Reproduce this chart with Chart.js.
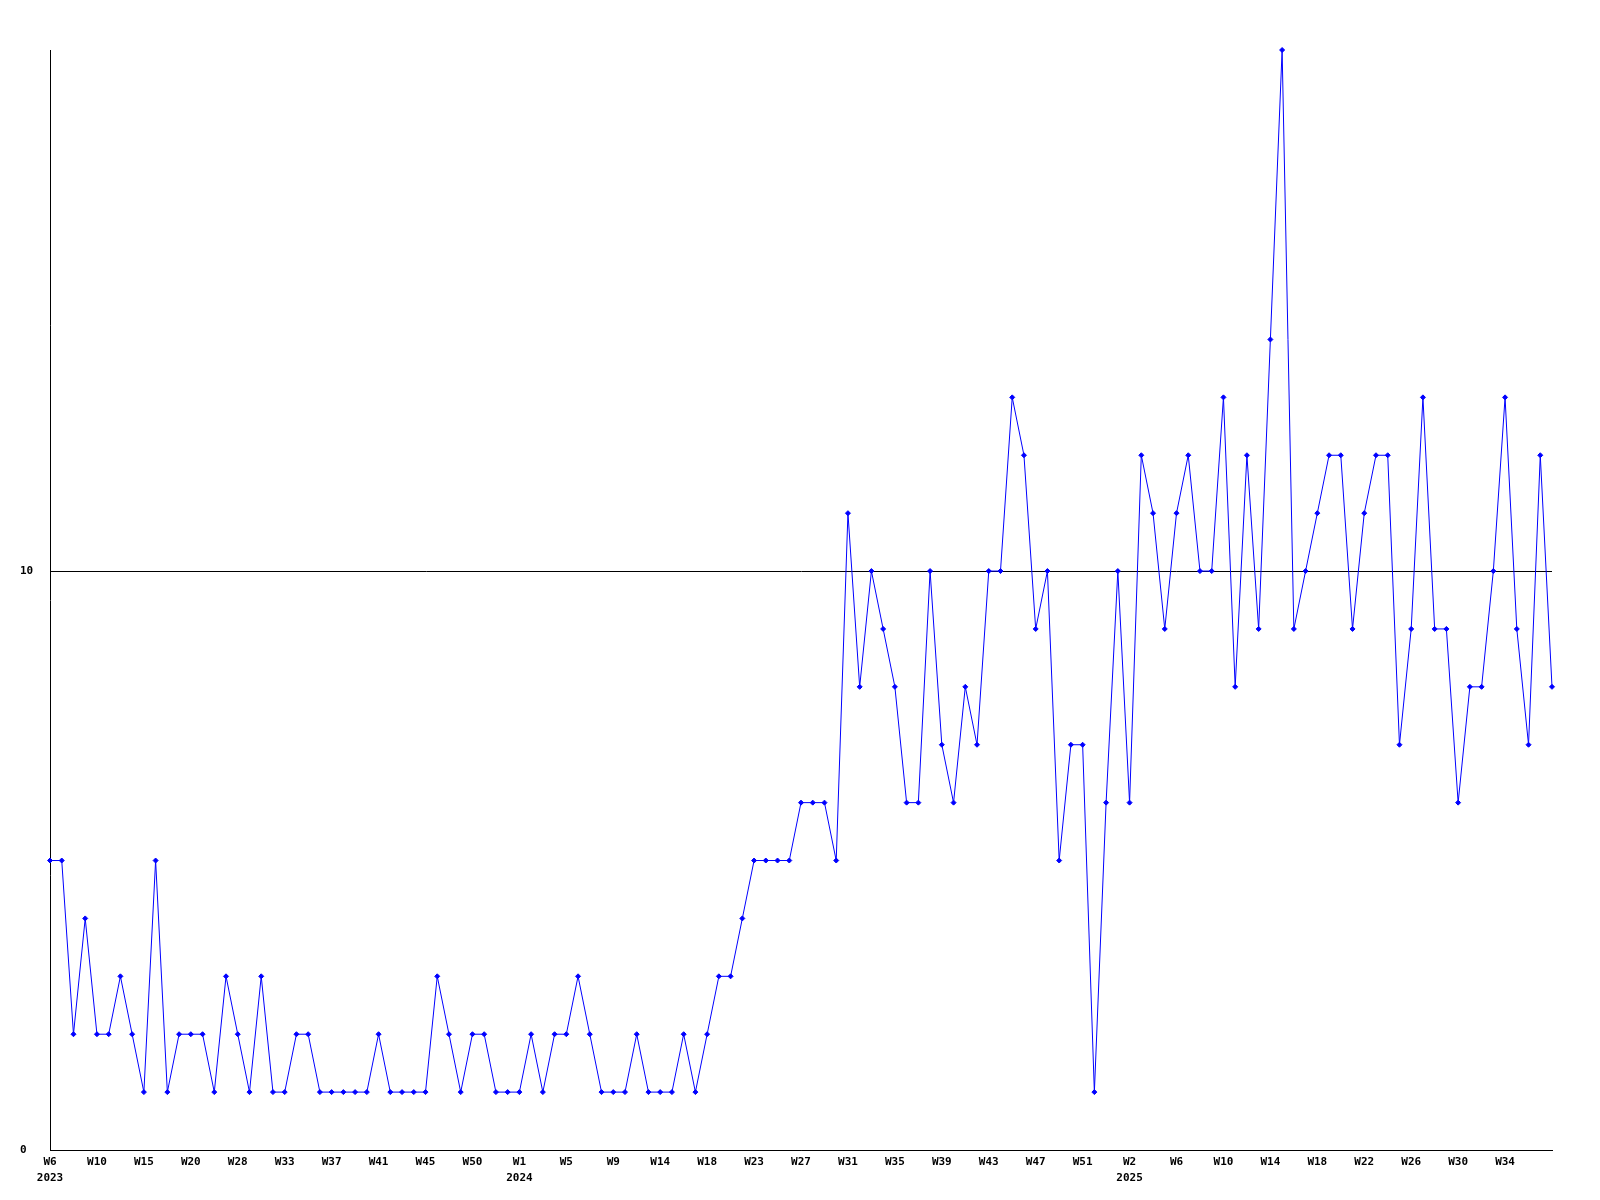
<!DOCTYPE html>
<html>
<head>
<meta charset="utf-8">
<script src="https://cdn.jsdelivr.net/npm/chart.js@4.4.0/dist/chart.umd.min.js"></script>
<style>
  html, body { margin: 0; padding: 0; background: #fff; }
  #wrap { width: 1600px; height: 1200px; }
</style>
</head>
<body>
<div id="wrap"><canvas id="weeklyChart" width="1600" height="1200"></canvas></div>
<script>
// Week numbers per year (some weeks have no entry)
const weeks2023 = [6, 7, 8, 9, 10, 11, 12, 14, 15, 16, 17, 19, 20, 22, 24, 26, 28, 29, 30, 32,
                   33, 34, 35, 36, 37, 38, 39, 40, 41, 42, 43, 44, 45, 46, 47, 49, 50, 51, 52, 53];
const weeks2024 = [1, 2, 3, 4, 5, 6, 7, 8, 9, 10, 11, 13, 14, 15, 16, 17, 18, 19, 20, 22,
                   23, 24, 25, 26, 27, 28, 29, 30, 31, 32, 33, 34, 35, 36, 37, 38, 39, 40, 41, 42,
                   43, 44, 45, 46, 47, 48, 49, 50, 51, 52, 53];
const weeks2025 = [1, 2, 3, 4, 5, 6, 7, 8, 9, 10, 11, 12, 13, 14, 15, 16, 17, 18, 19, 20,
                   21, 22, 23, 24, 25, 26, 27, 28, 29, 30, 31, 32, 33, 34, 35, 36, 37, 38];

// Count per week
const counts = [
    5, 5, 2, 4, 2, 2, 3, 2, 1, 5,
    1, 2, 2, 2, 1, 3, 2, 1, 3, 1,
    1, 2, 2, 1, 1, 1, 1, 1, 2, 1,
    1, 1, 1, 3, 2, 1, 2, 2, 1, 1,
    1, 2, 1, 2, 2, 3, 2, 1, 1, 1,
    2, 1, 1, 1, 2, 1, 2, 3, 3, 4,
    5, 5, 5, 5, 6, 6, 6, 5, 11, 8,
    10, 9, 8, 6, 6, 10, 7, 6, 8, 7,
    10, 10, 13, 12, 9, 10, 5, 7, 7, 1,
    6, 10, 6, 12, 11, 9, 11, 12, 10, 10,
    13, 8, 12, 9, 14, 19, 9, 10, 11, 12,
    12, 9, 11, 12, 12, 7, 9, 13, 9, 9,
    6, 8, 8, 10, 13, 9, 7, 12, 8
];

const yTicks = [0, 10];
const yMax = 19;
const labelEvery = 4;

const weekLabels = [];
const weekYears = [];
[[2023, weeks2023], [2024, weeks2024], [2025, weeks2025]].forEach(([year, weeks]) => {
    weeks.forEach(w => {
        weekLabels.push('W' + w);
        weekYears.push(year);
    });
});

const tickFont = { family: '"DejaVu Sans Mono", monospace', size: 11, weight: 'bold', lineHeight: '16px' };

const ctx = document.getElementById('weeklyChart').getContext('2d');
new Chart(ctx, {
    type: 'line',
    data: {
        labels: weekLabels,
        datasets: [{
            data: counts,
            borderColor: '#0000ff',
            borderWidth: 1,
            backgroundColor: '#0000ff',
            pointStyle: 'rectRot',
            pointRadius: 2.5,
            pointBorderWidth: 1,
            pointBackgroundColor: '#0000ff',
            pointBorderColor: '#0000ff',
            tension: 0,
            fill: false,
            clip: false
        }]
    },
    options: {
        responsive: false,
        animation: false,
        layout: { padding: { top: 50, right: 48, bottom: 0, left: 20 } },
        plugins: {
            legend: { display: false },
            tooltip: { enabled: false }
        },
        scales: {
            x: {
                offset: false,
                grid: { display: false, drawTicks: false },
                border: { display: true, color: '#000', width: 1 },
                ticks: {
                    autoSkip: false,
                    maxRotation: 0,
                    padding: 4,
                    color: '#000',
                    font: tickFont,
                    callback: function(value, index) {
                        // every 4th week gets a label, the last (open) week none
                        if (index % labelEvery !== 0 || index === weekLabels.length - 1) return '';
                        const label = this.getLabelForValue(value);
                        const prev = index - labelEvery;
                        if (prev < 0 || weekYears[prev] !== weekYears[index]) {
                            return [label, String(weekYears[index])];
                        }
                        return label;
                    }
                },
                afterFit: scale => { scale.height = 50; }
            },
            y: {
                min: 0,
                max: yMax,
                grid: { color: '#000', lineWidth: 1, drawTicks: false },
                border: { display: true, color: '#000', width: 1 },
                ticks: {
                    crossAlign: 'far',
                    color: '#000',
                    font: tickFont
                },
                afterBuildTicks: scale => { scale.ticks = yTicks.map(v => ({ value: v })); },
                afterFit: scale => { scale.width = 30; }
            }
        }
    }
});
</script>
</body>
</html>
